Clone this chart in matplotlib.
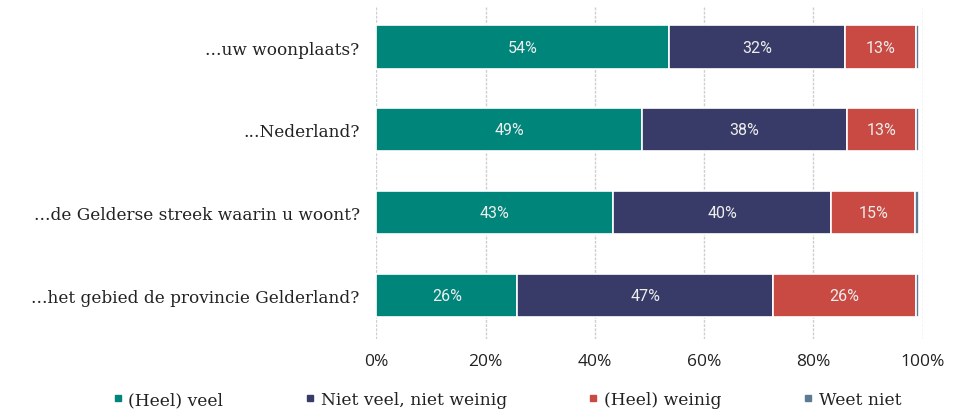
import matplotlib.pyplot as plt
from matplotlib.lines import Line2D
import numpy as np

# rows, top to bottom
vragen = ['...uw woonplaats?', '...Nederland?',
          '...de Gelderse streek waarin u woont?',
          '...het gebied de provincie Gelderland?']
categorieen = ['(Heel) veel', 'Niet veel, niet weinig', '(Heel) weinig', 'Weet niet']
heel_veel = [53.6, 48.6, 43.3, 25.8]
niet_veel_niet_weinig = [32.2, 37.6, 40.0, 46.8]
heel_weinig = [13.0, 12.6, 15.4, 26.2]
weet_niet = [0.6, 0.6, 0.6, 0.6]
xticks = [0, 20, 40, 60, 80, 100]

kleuren = ['#00857a', '#383b67', '#c94a42', '#5e7a93']
series = [heel_veel, niet_veel_niet_weinig, heel_weinig, weet_niet]

fig = plt.figure(figsize=(9.6, 4.1), dpi=100)
ax = fig.add_axes([0.392, 0.171, 0.569, 0.809])

y = np.arange(len(vragen))
left = np.zeros(len(vragen))
for vals, kleur in zip(series, kleuren):
    bars = ax.barh(y, vals, left=left, height=0.52, color=kleur,
                   edgecolor='white', linewidth=1.2, zorder=3)
    if kleur != kleuren[-1]:
        for b, v in zip(bars, vals):
            ax.text(b.get_x() + b.get_width() / 2, b.get_y() + b.get_height() / 2,
                    f'{v:.0f}%', ha='center', va='center', color='#eeeeee',
                    fontsize=11.5, family='Roboto', zorder=4)
    left += np.array(vals)

ax.set_xlim(0, 100)
ax.set_ylim(3.52, -0.48)
ax.set_xticks(xticks)
ax.set_xticklabels([f'{t}%' for t in xticks], fontsize=12.5, family='Open Sans', color='#222222')
ax.set_yticks(y)
ax.set_yticklabels(vragen, fontsize=12.2, family='DejaVu Serif', color='#222222')
ax.tick_params(length=0, pad=12)
ax.tick_params(axis='x', pad=10)
for s in ax.spines.values():
    s.set_visible(False)
ax.grid(axis='x', color='#cfcfcf', linestyle=(0, (2, 1)), linewidth=1, zorder=0)

handles = [Line2D([], [], marker='s', linestyle='none', markersize=5,
                  color=k) for k in kleuren]
fig.legend(handles, categorieen, loc='lower center', bbox_to_anchor=(0.528, -0.035),
           ncol=4, frameon=False, handlelength=0.6, handletextpad=0.33,
           columnspacing=4.76, prop={'family': 'DejaVu Serif', 'size': 12.3},
           labelcolor='#222222')

fig.savefig('out.png', dpi=100)
